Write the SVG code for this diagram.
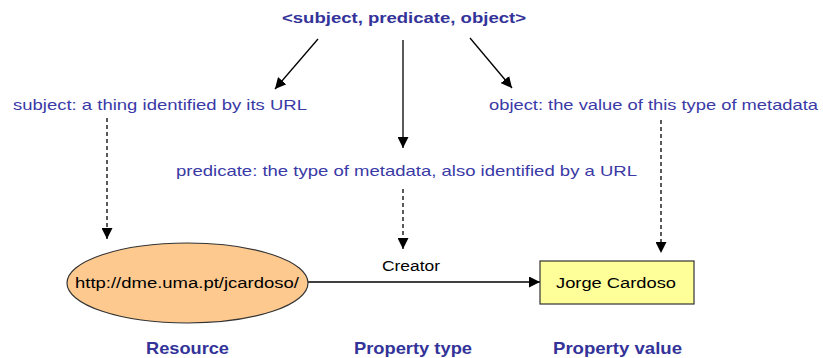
<svg xmlns="http://www.w3.org/2000/svg" width="823" height="358" viewBox="0 0 823 358">
  <defs>
    <marker id="head" viewBox="0 0 10 10" refX="10" refY="5" markerWidth="11" markerHeight="11" markerUnits="userSpaceOnUse" orient="auto">
      <path d="M0,0 L10,5 L0,10 Z" fill="#000"/>
    </marker>
    <style>
      .note { font-family: "Liberation Sans", Arial, sans-serif; font-size: 15px; fill: #3a3aa6; }
      .title { font-family: "Liberation Sans", Arial, sans-serif; font-size: 15px; font-weight: bold; fill: #333399; }
      .label { font-family: "Liberation Sans", Arial, sans-serif; font-size: 17px; font-weight: bold; fill: #333399; }
      .node-text { font-family: "Liberation Sans", Arial, sans-serif; font-size: 14px; fill: #000; }
      .solid { stroke: #000; stroke-width: 1.3; fill: none; marker-end: url(#head); }
      .dashed { stroke: #000; stroke-width: 1.3; fill: none; stroke-dasharray: 4 3; marker-end: url(#head); }
    </style>
  </defs>
  <rect width="823" height="358" fill="#fff"/>

  <!-- triple heading and its annotations -->
  <text class="title" x="282" y="23" textLength="244" lengthAdjust="spacingAndGlyphs">&lt;subject, predicate, object&gt;</text>
  <text class="note" x="13" y="110" textLength="294" lengthAdjust="spacingAndGlyphs">subject: a thing identified by its URL</text>
  <text class="note" x="489" y="110" textLength="329" lengthAdjust="spacingAndGlyphs">object: the value of this type of metadata</text>
  <text class="note" x="176" y="176" textLength="461" lengthAdjust="spacingAndGlyphs">predicate: the type of metadata, also identified by a URL</text>

  <!-- connectors -->
  <g id="connectors">
    <line class="solid" x1="318" y1="39" x2="275" y2="89"/>
    <line class="solid" x1="403" y1="40" x2="403" y2="148"/>
    <line class="solid" x1="470" y1="38" x2="512" y2="88"/>
    <line class="dashed" x1="107" y1="118" x2="107" y2="239"/>
    <line class="dashed" x1="403" y1="189" x2="403" y2="249"/>
    <line class="dashed" x1="661" y1="120" x2="661" y2="253"/>
    <line class="solid" x1="308" y1="282" x2="540" y2="282"/>
    <text class="node-text" x="411" y="271" text-anchor="middle" textLength="58" lengthAdjust="spacingAndGlyphs">Creator</text>
  </g>

  <!-- resource node -->
  <g id="resource">
    <ellipse cx="187.5" cy="283" rx="120.5" ry="40" fill="#fdc98f" stroke="#333" stroke-width="1.2"/>
    <text class="node-text" x="75" y="288" textLength="224" lengthAdjust="spacingAndGlyphs">http://dme.uma.pt/jcardoso/</text>
  </g>

  <!-- property value node -->
  <g id="value">
    <rect x="540" y="261" width="154" height="43" fill="#ffff99" stroke="#333" stroke-width="1.2"/>
    <text class="node-text" x="556" y="288" textLength="120" lengthAdjust="spacingAndGlyphs">Jorge Cardoso</text>
  </g>

  <!-- column captions -->
  <text class="label" x="146" y="354" textLength="83" lengthAdjust="spacingAndGlyphs">Resource</text>
  <text class="label" x="354" y="354" textLength="118" lengthAdjust="spacingAndGlyphs">Property type</text>
  <text class="label" x="553" y="354" textLength="129" lengthAdjust="spacingAndGlyphs">Property value</text>
</svg>
